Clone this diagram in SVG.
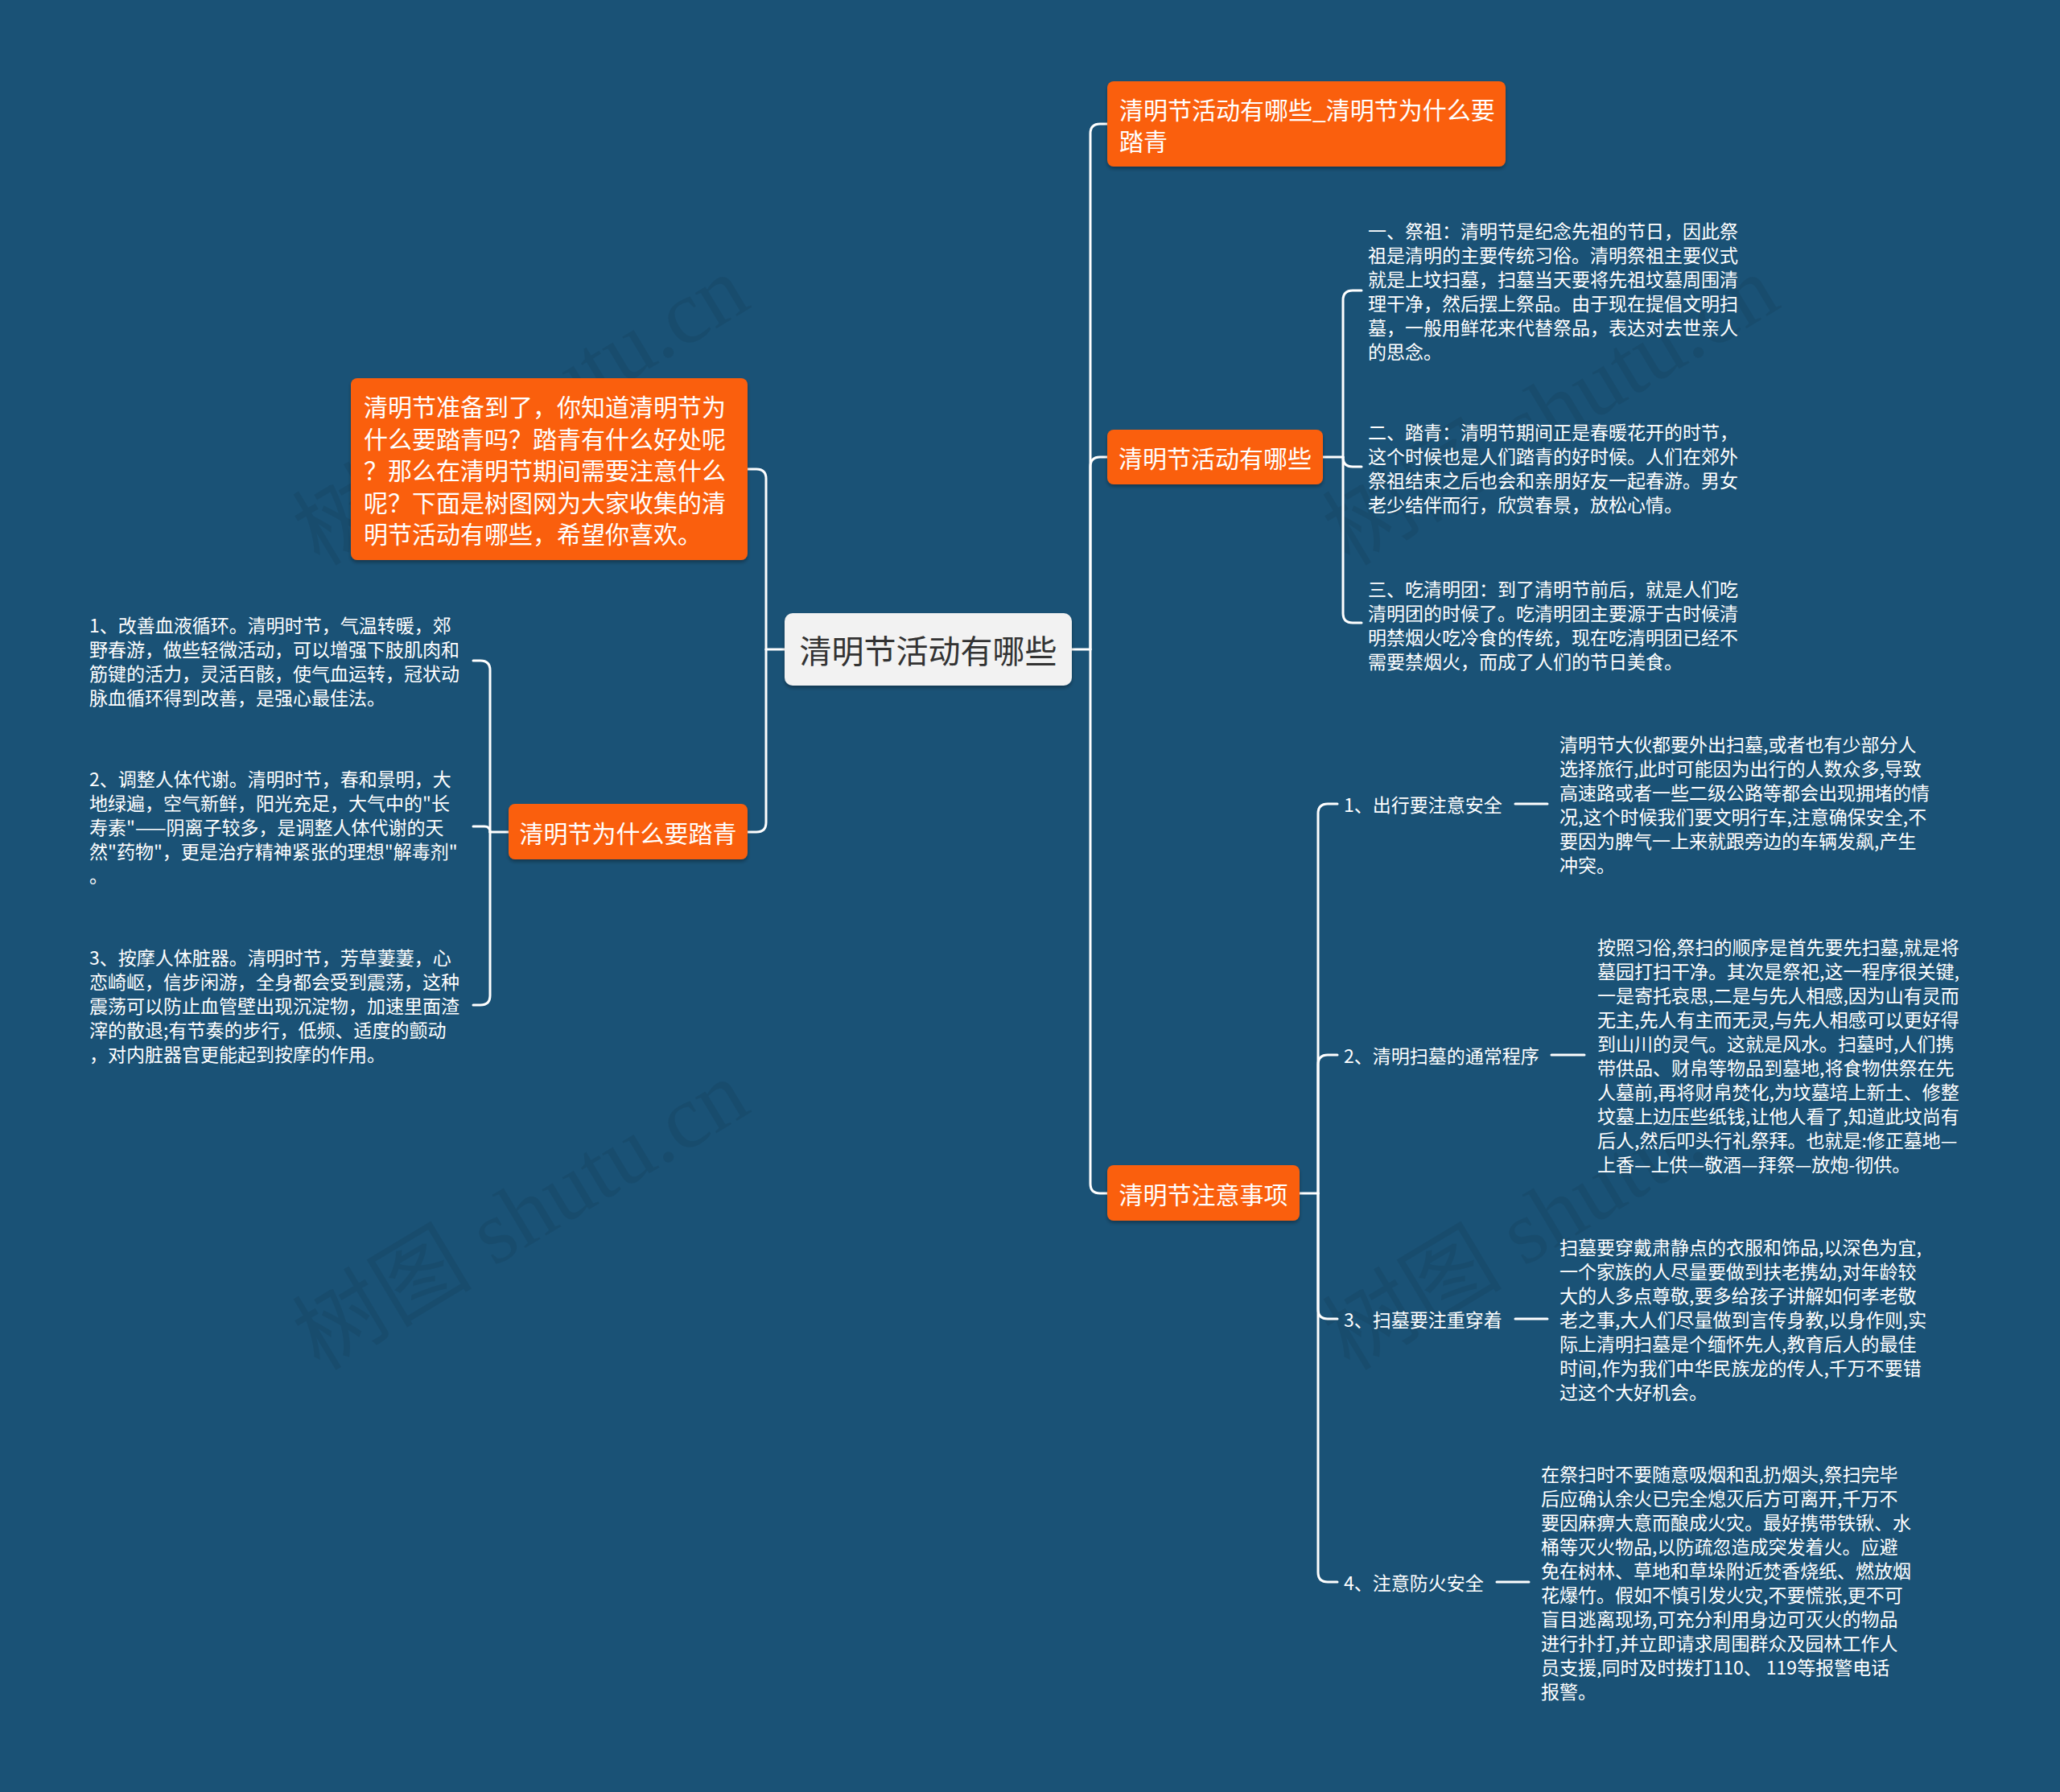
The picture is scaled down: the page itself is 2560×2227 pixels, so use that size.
<svg xmlns="http://www.w3.org/2000/svg" width="2560" height="2227" viewBox="0 0 2560 2227">
<defs>
<style>
.conn{fill:none;stroke:#fff;stroke-width:3;stroke-linecap:round;stroke-linejoin:round}
.org{fill:#fa5f0a;filter:url(#sh)}
.ctr{fill:#f2f2f2;filter:url(#sh)}
text{font-family:"Noto Sans CJK SC","Noto Sans",sans-serif;dominant-baseline:central}
.t40{font-size:40px;fill:#333}
.t30{font-size:30px;fill:#fff}
.t23{font-size:23px;fill:#fff}
.wm{font-family:"Liberation Serif","Noto Sans CJK SC",serif;font-size:112px;fill:#000;fill-opacity:0.07;text-anchor:middle}
</style>
<filter id="sh" x="-5%" y="-10%" width="110%" height="130%">
<feDropShadow dx="0" dy="3" stdDeviation="2" flood-color="#000" flood-opacity="0.3"/>
</filter>
</defs>
<rect width="2560" height="2227" fill="#1a5276"/>

<g id="watermarks">
<text class="wm" transform="translate(647,510) rotate(-31)">树图 shutu.cn</text>
<text class="wm" transform="translate(1927,510) rotate(-31)">树图 shutu.cn</text>
<text class="wm" transform="translate(647,1510) rotate(-31)">树图 shutu.cn</text>
<text class="wm" transform="translate(1927,1510) rotate(-31)">树图 shutu.cn</text>
</g>

<g id="connectors">
<path class="conn" d="M1332,807 H1355"/>
<path class="conn" d="M1355,807 V166 Q1355,154 1367,154 H1376"/>
<path class="conn" d="M1355,807 V580 Q1355,568 1367,568 H1376"/>
<path class="conn" d="M1355,807 V1471 Q1355,1483 1367,1483 H1376"/>
<path class="conn" d="M975,807 H952"/>
<path class="conn" d="M952,807 V595 Q952,583 940,583 H929"/>
<path class="conn" d="M952,807 V1022 Q952,1034 940,1034 H929"/>
<path class="conn" d="M1644,568 H1669"/>
<path class="conn" d="M1669,568 V373 Q1669,361 1681,361 H1692"/>
<path class="conn" d="M1669,568 Q1669,580 1681,580 H1692"/>
<path class="conn" d="M1669,568 V762 Q1669,774 1681,774 H1692"/>
<path class="conn" d="M1615,1483 H1638"/>
<path class="conn" d="M1638,1483 V1011 Q1638,999 1650,999 H1662"/>
<path class="conn" d="M1638,1483 V1323 Q1638,1311 1650,1311 H1662"/>
<path class="conn" d="M1638,1483 V1627 Q1638,1639 1650,1639 H1662"/>
<path class="conn" d="M1638,1483 V1954 Q1638,1966 1650,1966 H1662"/>
<path class="conn" d="M1883,999 H1923"/>
<path class="conn" d="M1928,1311 H1969"/>
<path class="conn" d="M1883,1639 H1923"/>
<path class="conn" d="M1860,1966 H1900"/>
<path class="conn" d="M632,1034 H609"/>
<path class="conn" d="M609,1034 V833 Q609,821 597,821 H588"/>
<path class="conn" d="M609,1034 Q609,1027 602,1027 H588"/>
<path class="conn" d="M609,1034 V1237 Q609,1249 597,1249 H588"/>
</g>

<g id="center">
<rect class="ctr" x="975" y="762" width="357" height="90" rx="10"/>
<text class="t40" x="1153.5" y="807" text-anchor="middle">清明节活动有哪些</text>
</g>

<g id="title-node">
<rect class="org" x="1376" y="101" width="495" height="106" rx="8"/>
<text class="t30"><tspan x="1391" y="135">清明节活动有哪些_清明节为什么要</tspan><tspan x="1391" y="174">踏青</tspan></text>
</g>

<g id="activities">
<rect class="org" x="1376" y="534" width="268" height="68" rx="8"/>
<text class="t30" x="1510" y="568" text-anchor="middle">清明节活动有哪些</text>
</g>

<g id="act-1">
<text class="t23"><tspan x="1700" y="286">一、祭祖：清明节是纪念先祖的节日，因此祭</tspan><tspan x="1700" y="316">祖是清明的主要传统习俗。清明祭祖主要仪式</tspan><tspan x="1700" y="346">就是上坟扫墓，扫墓当天要将先祖坟墓周围清</tspan><tspan x="1700" y="376">理干净，然后摆上祭品。由于现在提倡文明扫</tspan><tspan x="1700" y="406">墓，一般用鲜花来代替祭品，表达对去世亲人</tspan><tspan x="1700" y="436">的思念。</tspan></text>
</g>
<g id="act-2">
<text class="t23"><tspan x="1700" y="536">二、踏青：清明节期间正是春暖花开的时节，</tspan><tspan x="1700" y="566">这个时候也是人们踏青的好时候。人们在郊外</tspan><tspan x="1700" y="596">祭祖结束之后也会和亲朋好友一起春游。男女</tspan><tspan x="1700" y="626">老少结伴而行，欣赏春景，放松心情。</tspan></text>
</g>
<g id="act-3">
<text class="t23"><tspan x="1700" y="731">三、吃清明团：到了清明节前后，就是人们吃</tspan><tspan x="1700" y="761">清明团的时候了。吃清明团主要源于古时候清</tspan><tspan x="1700" y="791">明禁烟火吃冷食的传统，现在吃清明团已经不</tspan><tspan x="1700" y="821">需要禁烟火，而成了人们的节日美食。</tspan></text>
</g>

<g id="notes">
<rect class="org" x="1376" y="1448" width="239" height="69" rx="8"/>
<text class="t30" x="1495.5" y="1483" text-anchor="middle">清明节注意事项</text>
</g>

<g id="note-1">
<text class="t23" x="1670" y="999">1、出行要注意安全</text>
<text class="t23"><tspan x="1938" y="924">清明节大伙都要外出扫墓,或者也有少部分人</tspan><tspan x="1938" y="954">选择旅行,此时可能因为出行的人数众多,导致</tspan><tspan x="1938" y="984">高速路或者一些二级公路等都会出现拥堵的情</tspan><tspan x="1938" y="1014">况,这个时候我们要文明行车,注意确保安全,不</tspan><tspan x="1938" y="1044">要因为脾气一上来就跟旁边的车辆发飙,产生</tspan><tspan x="1938" y="1074">冲突。</tspan></text>
</g>
<g id="note-2">
<text class="t23" x="1670" y="1311">2、清明扫墓的通常程序</text>
<text class="t23"><tspan x="1985" y="1176">按照习俗,祭扫的顺序是首先要先扫墓,就是将</tspan><tspan x="1985" y="1206">墓园打扫干净。其次是祭祀,这一程序很关键,</tspan><tspan x="1985" y="1236">一是寄托哀思,二是与先人相感,因为山有灵而</tspan><tspan x="1985" y="1266">无主,先人有主而无灵,与先人相感可以更好得</tspan><tspan x="1985" y="1296">到山川的灵气。这就是风水。扫墓时,人们携</tspan><tspan x="1985" y="1326">带供品、财帛等物品到墓地,将食物供祭在先</tspan><tspan x="1985" y="1356">人墓前,再将财帛焚化,为坟墓培上新土、修整</tspan><tspan x="1985" y="1386">坟墓上边压些纸钱,让他人看了,知道此坟尚有</tspan><tspan x="1985" y="1416">后人,然后叩头行礼祭拜。也就是:修正墓地—</tspan><tspan x="1985" y="1446">上香—上供—敬酒—拜祭—放炮-彻供。</tspan></text>
</g>
<g id="note-3">
<text class="t23" x="1670" y="1639">3、扫墓要注重穿着</text>
<text class="t23"><tspan x="1938" y="1549">扫墓要穿戴肃静点的衣服和饰品,以深色为宜,</tspan><tspan x="1938" y="1579">一个家族的人尽量要做到扶老携幼,对年龄较</tspan><tspan x="1938" y="1609">大的人多点尊敬,要多给孩子讲解如何孝老敬</tspan><tspan x="1938" y="1639">老之事,大人们尽量做到言传身教,以身作则,实</tspan><tspan x="1938" y="1669">际上清明扫墓是个缅怀先人,教育后人的最佳</tspan><tspan x="1938" y="1699">时间,作为我们中华民族龙的传人,千万不要错</tspan><tspan x="1938" y="1729">过这个大好机会。</tspan></text>
</g>
<g id="note-4">
<text class="t23" x="1670" y="1966">4、注意防火安全</text>
<text class="t23"><tspan x="1915" y="1831">在祭扫时不要随意吸烟和乱扔烟头,祭扫完毕</tspan><tspan x="1915" y="1861">后应确认余火已完全熄灭后方可离开,千万不</tspan><tspan x="1915" y="1891">要因麻痹大意而酿成火灾。最好携带铁锹、水</tspan><tspan x="1915" y="1921">桶等灭火物品,以防疏忽造成突发着火。应避</tspan><tspan x="1915" y="1951">免在树林、草地和草垛附近焚香烧纸、燃放烟</tspan><tspan x="1915" y="1981">花爆竹。假如不慎引发火灾,不要慌张,更不可</tspan><tspan x="1915" y="2011">盲目逃离现场,可充分利用身边可灭火的物品</tspan><tspan x="1915" y="2041">进行扑打,并立即请求周围群众及园林工作人</tspan><tspan x="1915" y="2071">员支援,同时及时拨打110、 119等报警电话</tspan><tspan x="1915" y="2101">报警。</tspan></text>
</g>

<g id="intro">
<rect class="org" x="436" y="470" width="493" height="226" rx="8"/>
<text class="t30"><tspan x="452" y="504">清明节准备到了，你知道清明节为</tspan><tspan x="452" y="543.5">什么要踏青吗？踏青有什么好处呢</tspan><tspan x="452" y="583">？那么在清明节期间需要注意什么</tspan><tspan x="452" y="622.5">呢？下面是树图网为大家收集的清</tspan><tspan x="452" y="662">明节活动有哪些，希望你喜欢。</tspan></text>
</g>

<g id="why">
<rect class="org" x="632" y="999" width="297" height="69" rx="8"/>
<text class="t30" x="780.5" y="1034" text-anchor="middle">清明节为什么要踏青</text>
</g>

<g id="why-1">
<text class="t23"><tspan x="111" y="776">1、改善血液循环。清明时节，气温转暖，郊</tspan><tspan x="111" y="806">野春游，做些轻微活动，可以增强下肢肌肉和</tspan><tspan x="111" y="836">筋键的活力，灵活百骸，使气血运转，冠状动</tspan><tspan x="111" y="866">脉血循环得到改善，是强心最佳法。</tspan></text>
</g>
<g id="why-2">
<text class="t23"><tspan x="111" y="967">2、调整人体代谢。清明时节，春和景明，大</tspan><tspan x="111" y="997">地绿遍，空气新鲜，阳光充足，大气中的"长</tspan><tspan x="111" y="1027">寿素"——阴离子较多，是调整人体代谢的天</tspan><tspan x="111" y="1057">然"药物"，更是治疗精神紧张的理想"解毒剂"</tspan><tspan x="111" y="1087">。</tspan></text>
</g>
<g id="why-3">
<text class="t23"><tspan x="111" y="1189">3、按摩人体脏器。清明时节，芳草萋萋，心</tspan><tspan x="111" y="1219">恋崎岖，信步闲游，全身都会受到震荡，这种</tspan><tspan x="111" y="1249">震荡可以防止血管壁出现沉淀物，加速里面渣</tspan><tspan x="111" y="1279">滓的散退;有节奏的步行，低频、适度的颤动</tspan><tspan x="111" y="1309">，对内脏器官更能起到按摩的作用。</tspan></text>
</g>
</svg>
